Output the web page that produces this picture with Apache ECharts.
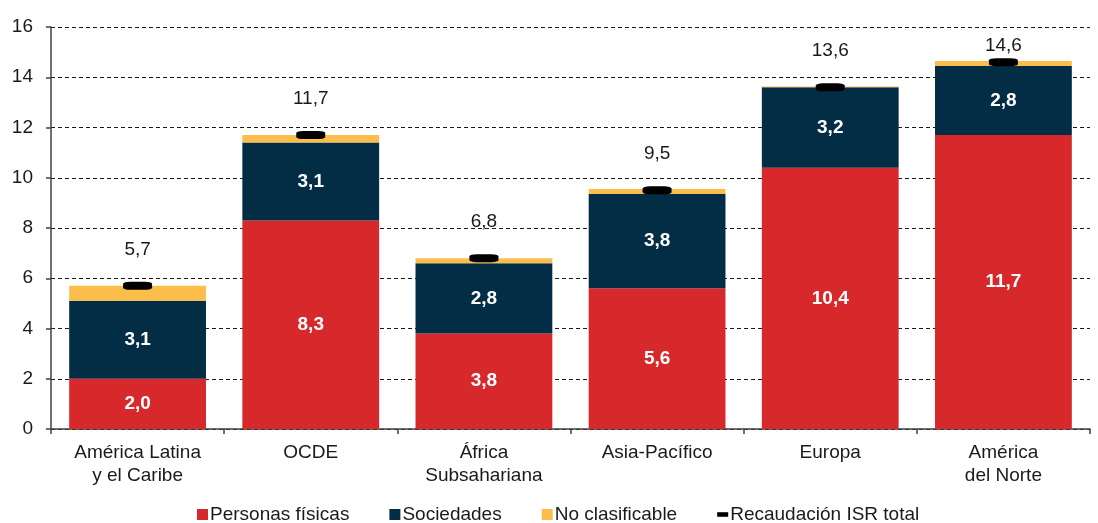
<!DOCTYPE html>
<html>
<head>
<meta charset="utf-8">
<script src="https://cdn.jsdelivr.net/npm/echarts@6/dist/echarts.min.js"></script>
<style>
  html, body { margin: 0; padding: 0; background: #fff; }
  #chart { width: 1098px; height: 523px; }
</style>
</head>
<body>
<div id="chart"></div>
<script>
// categorias (regiones)
const categories = ['América Latina\ny el Caribe', 'OCDE', 'África\nSubsahariana', 'Asia-Pacífico', 'Europa', 'América\ndel Norte'];
// componentes de la recaudación del ISR (% del PIB)
const personasFisicas = [2.0, 8.3, 3.8, 5.6, 10.4, 11.7];
const sociedades = [3.1, 3.1, 2.8, 3.75, 3.2, 2.75];
const noClasificable = [0.6, 0.3, 0.2, 0.2, 0.03, 0.2];
const totalISR = [5.7, 11.7, 6.8, 9.5, 13.6, 14.6];
const yTicks = [0, 2, 4, 6, 8, 10, 12, 14, 16];

const fmt = v => v.toFixed(1).replace('.', ',');
const font = 'Liberation Sans, Arial, sans-serif';

let myChart = echarts.init(document.getElementById('chart'));
let barLabel = {
    show: true,
    color: '#fff',
    fontWeight: 'bold',
    fontSize: 19,
    fontFamily: font,
    formatter: p => fmt(p.value)
};

let options = {
    animation: false,
    textStyle: { fontFamily: font },
    legend: {
        top: 500,
        left: 192,
        itemWidth: 11,
        itemHeight: 11,
        itemGap: 40,
        textStyle: { fontSize: 19, color: '#1a1a1a', fontFamily: font, padding: [0, 0, 0, -3] },
        data: [
            { name: 'Personas físicas', icon: 'rect' },
            { name: 'Sociedades', icon: 'rect' },
            { name: 'No clasificable', icon: 'rect' },
            { name: 'Recaudación ISR total', icon: 'path://M0,3.5 L12,3.5 L12,8.5 L0,8.5 Z' }
        ]
    },
    grid: { left: 51, right: 8, top: 27, bottom: 94 },
    xAxis: {
        type: 'category',
        data: categories,
        axisLine: { lineStyle: { color: '#404040', width: 1.5 } },
        axisTick: { show: true, length: 5, lineStyle: { color: '#404040', width: 1.5 } },
        axisLabel: { fontSize: 19, color: '#1a1a1a', lineHeight: 23, margin: 12, fontFamily: font }
    },
    yAxis: {
        type: 'value',
        min: yTicks[0],
        max: yTicks[yTicks.length - 1],
        interval: 2,
        axisLine: { show: true, lineStyle: { color: '#404040', width: 1.5 } },
        axisTick: { show: true, length: 5, lineStyle: { color: '#404040', width: 1.5 } },
        axisLabel: { fontSize: 19, color: '#1a1a1a', margin: 18, fontFamily: font },
        splitLine: { lineStyle: { color: '#1a1a1a', type: [4, 3], width: 1 } }
    },
    series: [
        {
            name: 'Personas físicas', type: 'bar', stack: 'isr', barWidth: '79%',
            data: personasFisicas, itemStyle: { color: '#D7282B' }, label: barLabel
        },
        {
            name: 'Sociedades', type: 'bar', stack: 'isr',
            data: sociedades, itemStyle: { color: '#022D45' }, label: barLabel
        },
        {
            name: 'No clasificable', type: 'bar', stack: 'isr',
            data: noClasificable, itemStyle: { color: '#FBBE4B' }
        },
        {
            name: 'Recaudación ISR total', type: 'scatter',
            symbol: 'roundRect', symbolSize: [29, 8],
            itemStyle: { color: '#000', opacity: 1 },
            data: totalISR.map((v, i) => ({
                value: v,
                label: { distance: i === totalISR.length - 1 ? 3 : 23 }
            })),
            label: {
                show: true, position: 'top', fontSize: 19, color: '#1a1a1a', fontFamily: font,
                formatter: p => fmt(p.value)
            },
            z: 5
        }
    ]
};
myChart.setOption(options);
</script>
</body>
</html>
